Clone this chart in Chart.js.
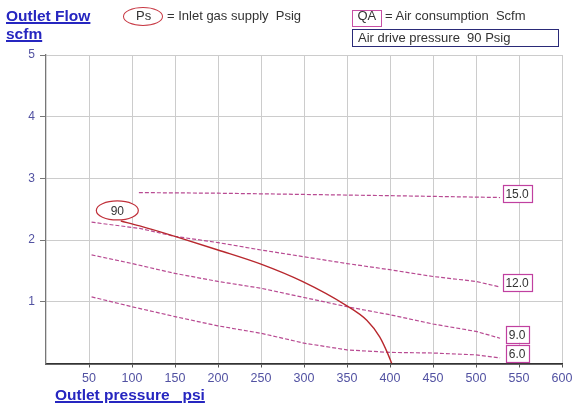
<!DOCTYPE html>
<html><head><meta charset="utf-8">
<script src="https://cdn.jsdelivr.net/npm/chart.js@4/dist/chart.umd.min.js"></script>
<style>
html,body{margin:0;padding:0;background:#fff;}
#wrap{position:relative;width:572px;height:406px;overflow:hidden;font-family:"Liberation Sans",Arial,sans-serif;}
#c{position:absolute;left:0;top:0;}
.t{position:absolute;white-space:pre;line-height:1;}
.h{color:#2626c0;font-weight:bold;font-size:15.5px;text-decoration:underline;text-decoration-thickness:1.5px;}
.lg{color:#333;font-size:13px;}
.box{position:absolute;box-sizing:border-box;}
</style></head>
<body>
<div id="wrap">
<canvas id="c" width="572" height="406"></canvas>
<div class="t h" style="left:6px;top:7.6px;">Outlet Flow</div>
<div class="t h" style="left:6px;top:26.2px;">scfm</div>
<div class="box" style="left:123px;top:7px;width:40px;height:19px;border:1px solid #c83a45;border-radius:50%;"></div>
<div class="t lg" style="left:136px;top:8.6px;">Ps</div>
<div class="t lg" style="left:167px;top:8.6px;">= Inlet gas supply  Psig</div>
<div class="box" style="left:352px;top:10px;width:30px;height:17px;border:1px solid #c850a5;"></div>
<div class="t lg" style="left:357.5px;top:9.4px;">QA</div>
<div class="t lg" style="left:385px;top:9.4px;">= Air consumption  Scfm</div>
<div class="box" style="left:352px;top:29px;width:207px;height:18px;border:1.5px solid #2a2a78;"></div>
<div class="t lg" style="left:358px;top:31px;">Air drive pressure  90 Psig</div>
<div class="t h" style="left:55px;top:387px;">Outlet pressure   psi</div>
</div>
<script>
// ---- data ----
const xTickValues = [50,100,150,200,250,300,350,400,450,500,550,600];
const yTickValues = [1,2,3,4,5];
const psLabel = '90';
const ps90Curve = [[87,2.31],[109,2.23],[150,2.06],[200,1.84],[250,1.61],[298,1.33],[348,0.95],[373,0.70],[388,0.43],[398,0.14],[402,0.0]];
const qaLabels = ['15.0','12.0','9.0','6.0'];
const qa15 = [[108,2.77],[200,2.76],[300,2.74],[400,2.72],[528,2.69]];
const qa12 = [[53,2.29],[109,2.19],[150,2.06],[200,1.96],[250,1.84],[300,1.73],[350,1.62],[400,1.52],[450,1.41],[500,1.33],[528,1.24]];
const qa9  = [[53,1.76],[100,1.62],[150,1.46],[200,1.33],[250,1.22],[300,1.07],[350,0.92],[400,0.79],[450,0.64],[500,0.52],[528,0.41]];
const qa6  = [[53,1.08],[100,0.92],[150,0.76],[200,0.61],[250,0.49],[300,0.33],[350,0.22],[400,0.18],[450,0.17],[500,0.14],[528,0.09]];
const qaSeries = [qa15, qa12, qa9, qa6];

const toPts = a => a.map(p => ({x:p[0], y:p[1]}));
const FONT = '"Liberation Sans", Arial, sans-serif';

const datasets = [{
  label: psLabel, data: toPts(ps90Curve), showLine: true, borderColor: '#b8282e',
  borderWidth: 1.4, pointRadius: 0, cubicInterpolationMode: 'monotone', fill: false
}].concat(qaSeries.map((s, i) => ({
  label: qaLabels[i], data: toPts(s), showLine: true, borderColor: '#b84a92',
  borderWidth: 1.2, borderDash: [4,2], pointRadius: 0, tension: 0, fill: false
})));

const labelPlugin = {
  id: 'labels',
  afterDatasetsDraw(chart) {
    const ctx = chart.ctx, xs = chart.scales.x, ys = chart.scales.y;
    ctx.save();
    ctx.font = '12px ' + FONT;
    ctx.textAlign = 'center';
    ctx.textBaseline = 'middle';
    qaSeries.forEach((s, i) => {
      const last = s[s.length - 1];
      const px = xs.getPixelForValue(last[0]), py = ys.getPixelForValue(last[1]);
      const tw = ctx.measureText(qaLabels[i]).width;
      const w = Math.round(tw + 6), h = 17;
      const cx = px + 17, cy = py - 4;
      ctx.fillStyle = '#fff';
      ctx.fillRect(cx - w/2, cy - h/2, w, h);
      ctx.strokeStyle = '#c040a0';
      ctx.lineWidth = 1.2;
      ctx.strokeRect(Math.round(cx - w/2) + 0.5, Math.round(cy - h/2) + 0.5, w, h);
      ctx.fillStyle = '#333';
      ctx.fillText(qaLabels[i], cx, cy + 1);
    });
    // Ps ellipse label at the start of the curve
    const f = ps90Curve[0];
    const ex = xs.getPixelForValue(f[0]) - 3.5, ey = ys.getPixelForValue(f[1]) - 10.5;
    ctx.beginPath();
    ctx.ellipse(ex, ey, 21, 9.5, 0, 0, Math.PI * 2);
    ctx.fillStyle = '#fff';
    ctx.fill();
    ctx.strokeStyle = '#c0303a';
    ctx.lineWidth = 1.2;
    ctx.stroke();
    ctx.fillStyle = '#333';
    ctx.fillText(psLabel, ex, ey + 1);
    ctx.restore();
  }
};

new Chart(document.getElementById('c'), {
  type: 'scatter',
  data: { datasets },
  options: {
    responsive: false, animation: false, devicePixelRatio: 1,
    layout: { padding: { left: 0, top: 55, right: 10, bottom: 0 } },
    plugins: { legend: { display: false }, tooltip: { enabled: false } },
    scales: {
      x: {
        type: 'linear', min: 0, max: 600,
        afterBuildTicks: s => { s.ticks = xTickValues.map(v => ({ value: v })); },
        afterFit: s => { s.height = 42.5; s.paddingLeft = 0; s.paddingRight = 0; },
        grid: { color: '#cccccc', tickColor: '#555', tickLength: 4, lineWidth: 1 },
        border: { color: '#333', width: 1.8 },
        ticks: { color: '#5252a2', font: { family: FONT, size: 12.5 }, padding: 4, maxRotation: 0, autoSkip: false }
      },
      y: {
        type: 'linear', min: 0, max: 5,
        afterBuildTicks: s => { s.ticks = yTickValues.map(v => ({ value: v })); },
        afterFit: s => { s.width = 46; s.paddingTop = 0; s.paddingBottom = 0; },
        grid: { color: '#cccccc', tickColor: '#777', tickLength: 6, lineWidth: 1 },
        border: { color: '#777', width: 1.3 },
        ticks: { color: '#5252a2', font: { family: FONT, size: 12 }, padding: 5 }
      }
    }
  },
  plugins: [labelPlugin]
});
</script>
</body></html>
